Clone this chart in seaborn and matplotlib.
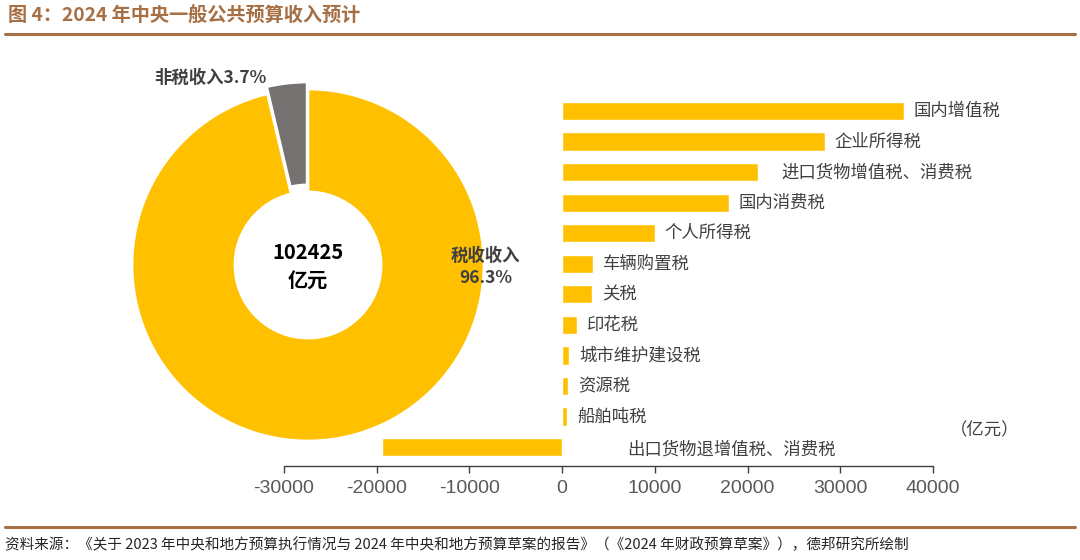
import numpy as np
import pandas as pd
import matplotlib
matplotlib.use('Agg')
import matplotlib.pyplot as plt
import seaborn as sns
from matplotlib.lines import Line2D

sns.set_theme(style='white')
plt.rcParams['font.family'] = ['Noto Sans CJK SC', 'DejaVu Sans']

# data (亿元)
categories = ['国内增值税', '企业所得税', '进口货物增值税、消费税', '国内消费税', '个人所得税',
              '车辆购置税', '关税', '印花税', '城市维护建设税', '资源税', '船舶吨税',
              '出口货物退增值税、消费税']
values = [36900, 28300, 21100, 18000, 10000, 3300, 3250, 1650, 750, 650, 550, -19400]
pie_labels = ['非税收入', '税收收入']
pie_shares = [3.7, 96.3]
total = 102425
xticks = [-30000, -20000, -10000, 0, 10000, 20000, 30000, 40000]

gold = '#FFC000'
grey = '#767171'
brown = '#A66F44'

W, H = 1080, 560
fig = plt.figure(figsize=(W / 100, H / 100), dpi=100)

def box(l, t, r, b):
    return [l / W, 1 - b / H, (r - l) / W, (b - t) / H]

# ---- bar chart ----
ax = fig.add_axes(box(284, 92.7, 933, 466))
df = pd.DataFrame({'cat': categories, 'val': values})
sns.barplot(data=df, y='cat', x='val', orient='h', color=gold, saturation=1,
            width=0.6, ax=ax)
ax.set_xlim(-30000, 40000)
ax.set_ylim(11.62, -0.6)
ax.set_yticks([])
ax.set_xlabel('')
ax.set_ylabel('')
for s in ['left', 'top', 'right']:
    ax.spines[s].set_visible(False)
ax.spines['bottom'].set_color('#404040')
ax.spines['bottom'].set_linewidth(1)
ax.set_xticks(xticks)
ax.set_xticklabels([str(t) for t in xticks], fontfamily='Liberation Sans',
                   fontsize=14, color='#595959')
ax.tick_params(axis='x', bottom=True, direction='out', length=5, width=1,
               color='#404040', pad=5)

# label offsets in points (layout only)
label_dx = {2: 17}
for i, (c, v) in enumerate(zip(categories, values)):
    if v < 0:
        ax.annotate(c, xy=(0, i), xytext=(47, -2), textcoords='offset points',
                    ha='left', va='center', fontsize=12.5, color='#404040')
    else:
        ax.annotate(c, xy=(v, i), xytext=(label_dx.get(i, 7), 0),
                    textcoords='offset points', ha='left', va='center',
                    fontsize=12.5, color='#404040')

fig.text(985 / W, 1 - 430 / H, '（亿元）', ha='center', va='center',
         fontsize=12.5, color='#404040')

# ---- donut ----
axp = fig.add_axes(box(108, 65, 508, 465))
axp.pie(pie_shares, colors=[grey, gold], startangle=90, counterclock=True,
        explode=[0.04, 0], radius=1,
        wedgeprops=dict(width=0.585, edgecolor='white', linewidth=2))
R = 200 / 176
axp.set_xlim(-R, R)
axp.set_ylim(-R, R)
axp.text(-0.557, 1.06, f'{pie_labels[0]}{pie_shares[0]}%', ha='center', va='center',
         fontsize=12.5, fontweight='bold', color='#404040')
axp.text(1.01, -0.01, f'{pie_labels[1]}\n{pie_shares[1]}%', ha='center', va='center',
         fontsize=12.5, fontweight='bold', color='#404040', linespacing=1.3)
axp.text(0, -0.01, f'{total}\n亿元', ha='center', va='center', fontsize=14.5,
         fontweight='bold', color='black', linespacing=1.45)

# ---- title / source ----
fig.text(8 / W, 1 - 16 / H, '图 4：2024 年中央一般公共预算收入预计', ha='left',
         va='center', fontsize=13.8, fontweight='bold', color=brown)
fig.add_artist(Line2D([5 / W, 1075 / W], [1 - 34 / H] * 2, color=brown, lw=2.2))
fig.add_artist(Line2D([5 / W, 1075 / W], [1 - 527 / H] * 2, color=brown, lw=2.2))
fig.text(5 / W, 1 - 545 / H,
         '资料来源：《关于 2023 年中央和地方预算执行情况与 2024 年中央和地方预算草案的报告》（《2024 年财政预算草案》），德邦研究所绘制',
         ha='left', va='center', fontsize=10.5, color='#262626')

fig.savefig('out.png', dpi=100)
